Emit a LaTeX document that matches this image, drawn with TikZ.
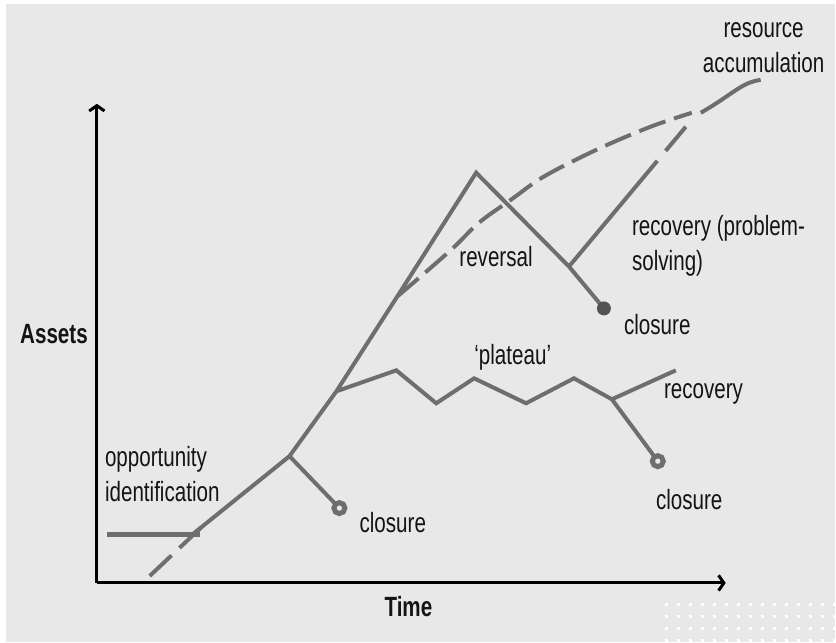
\documentclass[tikz,border=0pt]{standalone}
\usepackage{fontspec}
\setmainfont{Liberation Sans}[FakeStretch=0.74]
\usetikzlibrary{arrows.meta}
\newcommand{\pathcolor}{black!57}
\newcommand{\bgcolor}{black!9}

\tikzset{
  curve/.style={draw=\pathcolor, line width=1.2mm},
  dashcurve/.style={curve, dash pattern=on 8.4mm off 2.7mm},
  axis/.style={line width=0.9mm, -{Straight Barb[length=1.6mm,width=4.6mm]}},
  lbl/.style={font=\fontsize{23.8}{30}\selectfont, text=black!92, inner sep=0pt, align=left},
  ring/.style={draw=\pathcolor, line width=1.5mm, fill=\bgcolor},
}

\begin{document}
\begin{tikzpicture}[x=0.3mm, y=-0.3mm]
 \fill[white] (0,0) rectangle (836,643);
 \fill[\bgcolor] (6,4) rectangle (836,643);
 \foreach \i in {0,...,14}
   \foreach \j in {0,...,3}
     \fill[white] (668+12*\i, 606+12*\j) +(-1.5,-1.5) rectangle +(1.5,1.5);

 % axes
 \coordinate (O) at (97,584);
 \draw[axis] (O) -- (97,104);
 \draw[axis] (O) -- (727,584);
 \node[lbl, font=\fontsize{23.8}{30}\selectfont\bfseries, anchor=west] (assets) at (20,335) {Assets};
 \node[lbl, font=\fontsize{23.8}{30}\selectfont\bfseries, anchor=west] (time) at (385,608) {Time};

 % points of the path
 \coordinate (start) at (192,536);
 \coordinate (j1) at (290,457);
 \coordinate (j2) at (337,392);
 \coordinate (split) at (398,297);
 \coordinate (peak) at (477,173);
 \coordinate (j3) at (570,267);
 \coordinate (dot) at (605,309);
 \coordinate (j4) at (613,400);
 \coordinate (c1) at (340,509);
 \coordinate (c2) at (659,462);

 % opportunity
 \draw[curve, line width=1.5mm] (107,535) -- (200,535);
 \draw[curve, dash pattern=on 9mm off 3.3mm] (150,577) -- (202,528);
 \draw[curve] (start) -- (j1) -- (j2) -- (split) -- (peak) -- (j3) -- (dot);
 \fill[black!68] (dot) circle (7);

 % resource accumulation
 \draw[dashcurve] plot[smooth, tension=0.6] coordinates {(split) (450,252) (480,223) (512,200) (543,178) (583,157) (620,140) (657,125) (693,113)};
 \draw[curve] (702,113) .. controls (735,94) and (742,83) .. (762,80);

 % recovery (problem-solving)
 \draw[curve, dash pattern=on 41.4mm off 3.9mm on 9.6mm off 20mm] (j3) -- (687,127);

 % plateau
 \draw[curve] (j2) -- (397,371) -- (437,404) -- (475,379) -- (527,404) -- (575,379) -- (j4) -- (677,371);
 \draw[curve] (j4) -- (c2);
 \draw[ring] (c2) circle (5.5);
 \draw[curve] (j1) -- (c1);
 \draw[ring] (c1) circle (5.5);

 % labels
 \node[lbl, anchor=west] (opp) at (105,475) {opportunity\\identification};
 \node[lbl, anchor=west] (close1) at (360,523) {closure};
 \node[lbl, anchor=west] (rev) at (460,257) {reversal};
 \node[lbl, anchor=west] (rec1) at (633,246) {recovery (problem-\\solving)};
 \node[lbl, anchor=west] (close2) at (625,325) {closure};
 \node[lbl, anchor=west] (plat) at (475,358) {‘plateau’};
 \node[lbl, anchor=west] (rec2) at (665,395) {recovery};
 \node[lbl, anchor=west] (close3) at (657,500) {closure};
 \node[lbl, align=center] (res) at (765,48) {resource\\accumulation};
\end{tikzpicture}
\end{document}
